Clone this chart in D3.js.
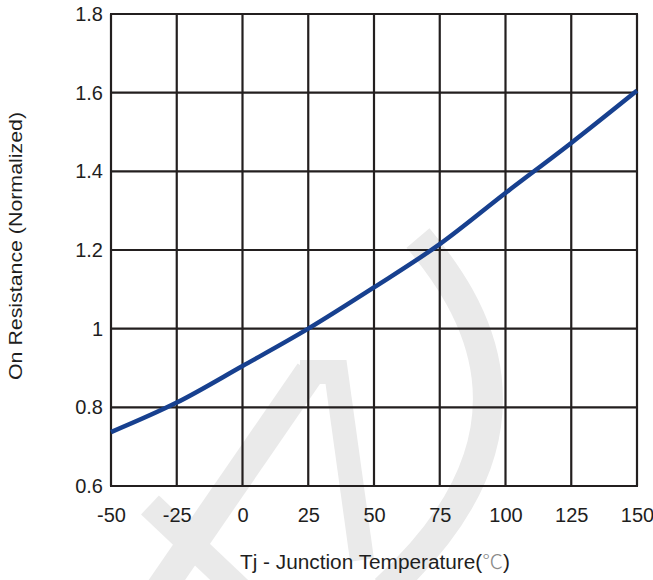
<!DOCTYPE html>
<html>
<head>
<meta charset="utf-8">
<script src="https://cdn.jsdelivr.net/npm/d3@7/dist/d3.min.js"></script>
<style>
  html, body { margin: 0; padding: 0; background: #fff; }
  svg { display: block; }
</style>
</head>
<body>
<script>
// Normalized on-resistance versus junction temperature
const temperatures = [-50, -25, 0, 25, 50, 75, 100, 125, 150];
const resistance   = [0.737, 0.812, 0.905, 1.0, 1.105, 1.215, 1.345, 1.472, 1.605];
const xTicks = [-50, -25, 0, 25, 50, 75, 100, 125, 150];
const yTicks = [0.6, 0.8, 1.0, 1.2, 1.4, 1.6, 1.8];
const yTickLabels = ["0.6", "0.8", "1", "1.2", "1.4", "1.6", "1.8"];

const width = 653, height = 580;
const margin = { left: 111, right: 16, top: 14, bottom: 94 };

const svg = d3.select("body").append("svg")
  .attr("width", width).attr("height", height);

const x = d3.scaleLinear().domain([-50, 150]).range([margin.left, width - margin.right]);
const y = d3.scaleLinear().domain([0.6, 1.8]).range([height - margin.bottom, margin.top]);

const font = "'Liberation Sans', Arial, sans-serif";
const gridColor = "#231f1f";
const textColor = "#1e1e1e";

// faint background watermark strokes
const wm = svg.append("g").attr("fill", "none").attr("stroke", "#eaeaea")
  .attr("stroke-linecap", "butt").attr("stroke-linejoin", "miter");
wm.append("path").attr("stroke-width", 30).attr("d", "M160,590 L310,372");
wm.append("path").attr("stroke-width", 26).attr("d", "M150,505 L245,595");
wm.append("path").attr("stroke-width", 24).attr("d", "M300,372 L336,372 L362,560");
wm.append("path").attr("stroke-width", 30).attr("d", "M418,238 C470,300 560,430 385,590");

// grid
const grid = svg.append("g");
grid.selectAll("line.v").data(xTicks).join("line")
  .attr("x1", d => x(d)).attr("x2", d => x(d))
  .attr("y1", y(0.6)).attr("y2", y(1.8))
  .attr("stroke", gridColor).attr("stroke-width", 2.2);
grid.selectAll("line.h").data(yTicks).join("line")
  .attr("y1", d => y(d)).attr("y2", d => y(d))
  .attr("x1", x(-50) - 1).attr("x2", x(150) + 1)
  .attr("stroke", gridColor).attr("stroke-width", 2.2);

// axes (labels only)
const xAxis = svg.append("g")
  .attr("transform", `translate(0,${y(0.6)})`)
  .call(d3.axisBottom(x).tickValues(xTicks).tickSize(0).tickPadding(22).tickFormat(d => String(d)));
xAxis.select(".domain").remove();
xAxis.selectAll("text").attr("font-family", font).attr("font-size", 20).attr("fill", textColor);

const yAxis = svg.append("g")
  .attr("transform", `translate(${x(-50)},0)`)
  .call(d3.axisLeft(y).tickValues(yTicks).tickSize(0).tickPadding(8)
    .tickFormat((d, i) => yTickLabels[i]));
yAxis.select(".domain").remove();
yAxis.selectAll("text").attr("font-family", font).attr("font-size", 20).attr("fill", textColor);

// curve
const pts = temperatures.map((t, i) => [t, resistance[i]]);
svg.append("path")
  .datum(pts)
  .attr("fill", "none")
  .attr("stroke", "#17408f")
  .attr("stroke-width", 4.5)
  .attr("d", d3.line().x(d => x(d[0])).y(d => y(d[1])).curve(d3.curveMonotoneX));

// axis titles
const xt = svg.append("text")
  .attr("x", 375).attr("y", 569)
  .attr("text-anchor", "middle")
  .attr("font-family", font).attr("font-size", 19.5).attr("fill", textColor)
  .attr("textLength", 270).attr("lengthAdjust", "spacingAndGlyphs");
xt.append("tspan").text("Tj - Junction Temperature(");
xt.append("tspan").attr("fill", "#8a8a8a").attr("font-family", "'Noto Sans CJK SC', sans-serif").attr("font-weight", 300).text("℃");
xt.append("tspan").text(")");

svg.append("text")
  .attr("transform", `translate(22,246) rotate(-90)`)
  .attr("text-anchor", "middle")
  .attr("font-family", font).attr("font-size", 18.5).attr("fill", textColor)
  .attr("textLength", 268).attr("lengthAdjust", "spacingAndGlyphs")
  .text("On Resistance (Normalized)");
</script>
</body>
</html>
